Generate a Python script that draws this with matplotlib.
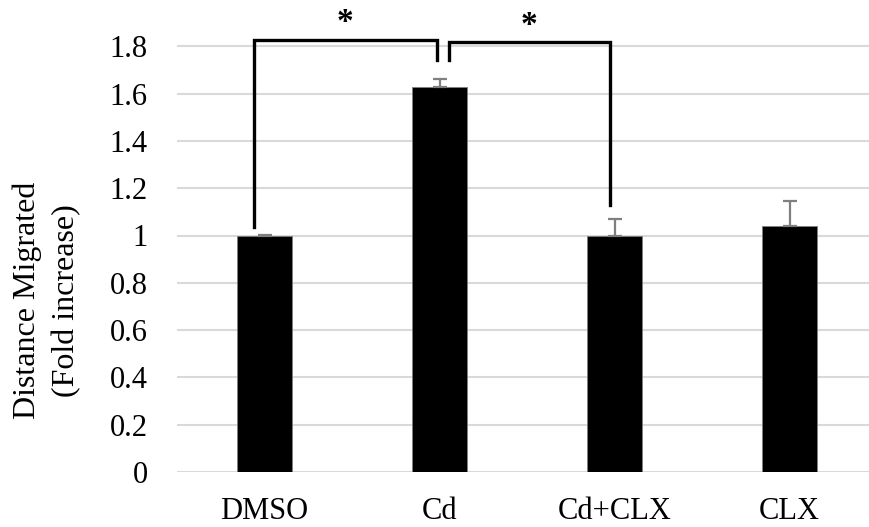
import numpy as np
import matplotlib
matplotlib.use("Agg")
import matplotlib.pyplot as plt

# data
groups = ["DMSO", "Cd", "Cd+CLX", "CLX"]
means = [1.0, 1.63, 1.0, 1.04]
errs_up = [0.004, 0.03, 0.07, 0.105]
yticks = [0, 0.2, 0.4, 0.6, 0.8, 1, 1.2, 1.4, 1.6, 1.8]
ytick_labels = ["0", "0.2", "0.4", "0.6", "0.8", "1", "1.2", "1.4", "1.6", "1.8"]

# significance brackets: (left group, right group)
pairs = [(0, 1), (1, 2)]

plt.rcParams['font.family'] = ['Liberation Serif', 'DejaVu Serif']
fs = 22

fig = plt.figure(figsize=(8.69, 5.27), dpi=100)
ax = fig.add_axes([177 / 869, 55 / 527, 700 / 869, 473 / 527])

x = np.arange(len(groups))
ax.bar(x, means, width=0.315, color="black", edgecolor="#7f7f7f", linewidth=0.6, zorder=3)
ax.errorbar(x, means, yerr=[np.zeros(len(errs_up)), errs_up], fmt="none",
            ecolor="#7f7f7f", elinewidth=1.6, capsize=5, capthick=1.6, zorder=4)

ax.set_xlim(-0.5, 3.5)
ax.set_ylim(0, 2.0)
ax.set_yticks(yticks)
ax.set_yticklabels(ytick_labels, fontsize=fs)
ax.set_xticks(x)
ax.set_xticklabels(groups, fontsize=fs)
ax.tick_params(axis="both", length=0)
ax.tick_params(axis="y", pad=21)
ax.tick_params(axis="x", pad=18)
ax.grid(axis="y", color="#d9d9d9", linewidth=1.5, zorder=0)
for s in ax.spines.values():
    s.set_visible(False)

# bracket 1: DMSO vs Cd
a, b = pairs[0]
xl, xr = a - 0.06, b - 0.015
ax.plot([xl, xl, xr, xr], [1.035, 1.825, 1.825, 1.74], color="black",
        linewidth=2.4, solid_joinstyle="miter", clip_on=False, zorder=5)
ax.text((xl + xr) / 2, 1.865, "*", ha="center", va="baseline", fontsize=fs + 2,
        fontweight="bold")

# bracket 2: Cd vs Cd+CLX
a, b = pairs[1]
xl, xr = a + 0.054, b - 0.026
ax.plot([xl, xl, xr, xr], [1.74, 1.817, 1.817, 1.128], color="black",
        linewidth=2.4, solid_joinstyle="miter", clip_on=False, zorder=5)
ax.text((xl + xr) / 2, 1.852, "*", ha="center", va="baseline", fontsize=fs + 2,
        fontweight="bold")

fig.text(47 / 869, 0.43, "Distance Migrated\n(Fold increase)", rotation=90,
         ha="center", va="center", fontsize=23, linespacing=1.45)

fig.savefig("out.png", dpi=100)
